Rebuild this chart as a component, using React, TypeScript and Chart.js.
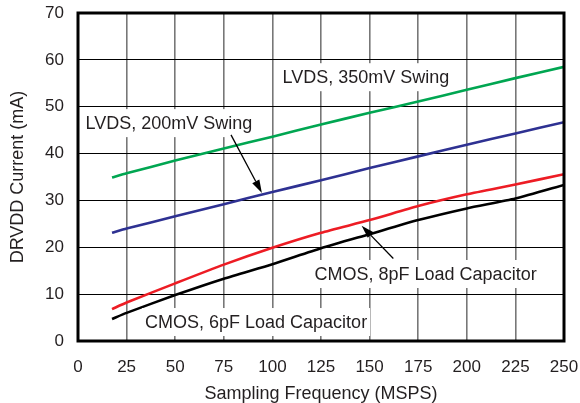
import React, { useEffect, useRef } from "react";
import { Chart, registerables } from "chart.js";

Chart.register(...registerables);

// Sampling frequency (MSPS)
const freq = [17.5, 25, 50, 75, 100, 125, 150, 175, 200, 225, 250];
const lvds350 = [34.9, 35.8, 38.5, 41.1, 43.6, 46.2, 48.7, 51.1, 53.6, 56.1, 58.5];
const lvds200 = [23.1, 24.0, 26.6, 29.2, 31.8, 34.3, 36.9, 39.4, 41.9, 44.3, 46.7];
const cmos8 = [6.8, 8.2, 12.3, 16.3, 19.9, 23.1, 25.8, 28.8, 31.3, 33.4, 35.6];
const cmos6 = [4.7, 6.0, 9.8, 13.3, 16.4, 19.8, 22.8, 25.8, 28.3, 30.4, 33.3];

const xTicks = [0, 25, 50, 75, 100, 125, 150, 175, 200, 225, 250];
const yTicks = [0, 10, 20, 30, 40, 50, 60, 70];

const xTitle = "Sampling Frequency (MSPS)";
const yTitle = "DRVDD Current (mA)";

// Curve labels (data coordinates of label centre)
const labelTexts = ["LVDS, 350mV Swing", "LVDS, 200mV Swing", "CMOS, 8pF Load Capacitor", "CMOS, 6pF Load Capacitor"];
const labelX = [148.1, 46.8, 178.8, 91.6];
const labelY = [56.3, 46.5, 14.3, 4.05];

// Arrows: from (x1,y1) to tip (x2,y2), data coordinates
const arrowFromX = [78.7, 162.2];
const arrowFromY = [44.0, 17.6];
const arrowToX = [94.6, 145.9];
const arrowToY = [31.6, 24.6];

const FONT = "'Liberation Sans', Arial, Helvetica, sans-serif";
const TEXT = "#231f20";

const toPts = (ys: number[]) => ys.map((y, i) => ({ x: freq[i], y }));

const annotPlugin = {
  id: "annot",
  afterDatasetsDraw(chart: any) {
    const { ctx, scales } = chart;
    const xs = scales.x;
    const ys = scales.y;
    ctx.save();
    ctx.font = `18px ${FONT}`;
    ctx.textAlign = "center";
    ctx.textBaseline = "middle";
    labelTexts.forEach((t, i) => {
      const px = xs.getPixelForValue(labelX[i]);
      const py = ys.getPixelForValue(labelY[i]);
      const w = ctx.measureText(t).width;
      ctx.fillStyle = "#ffffff";
      ctx.fillRect(px - w / 2 - 3, py - 14, w + 6, 28);
      ctx.fillStyle = TEXT;
      ctx.fillText(t, px, py + 1);
    });
    // arrows
    ctx.strokeStyle = "#000";
    ctx.fillStyle = "#000";
    ctx.lineWidth = 1.3;
    arrowFromX.forEach((_, i) => {
      const x1 = xs.getPixelForValue(arrowFromX[i]);
      const y1 = ys.getPixelForValue(arrowFromY[i]);
      const x2 = xs.getPixelForValue(arrowToX[i]);
      const y2 = ys.getPixelForValue(arrowToY[i]);
      const ang = Math.atan2(y2 - y1, x2 - x1);
      const len = 13;
      const half = 4;
      const bx = x2 - len * Math.cos(ang);
      const by = y2 - len * Math.sin(ang);
      ctx.beginPath();
      ctx.moveTo(x1, y1);
      ctx.lineTo(bx, by);
      ctx.stroke();
      ctx.beginPath();
      ctx.moveTo(x2, y2);
      ctx.lineTo(bx + half * Math.sin(ang), by - half * Math.cos(ang));
      ctx.lineTo(bx - half * Math.sin(ang), by + half * Math.cos(ang));
      ctx.closePath();
      ctx.fill();
    });
    ctx.restore();
  },
  afterDraw(chart: any) {
    const { ctx, chartArea: a } = chart;
    ctx.save();
    ctx.strokeStyle = "#000";
    ctx.lineWidth = 3;
    ctx.strokeRect(a.left, a.top, a.right - a.left, a.bottom - a.top);
    ctx.restore();
  },
};

export default function App() {
  const ref = useRef<HTMLCanvasElement>(null);
  useEffect(() => {
    if (!ref.current) return;
    const line = (data: number[], color: string) => ({
      data: toPts(data),
      borderColor: color,
      backgroundColor: color,
      borderWidth: 2.6,
      pointRadius: 0,
      tension: 0.2,
      fill: false,
    });
    const chart = new Chart(ref.current, {
      type: "line",
      data: {
        datasets: [
          line(lvds350, "#00a651"),
          line(lvds200, "#2e3192"),
          line(cmos8, "#ed1c24"),
          line(cmos6, "#000000"),
        ],
      },
      options: {
        animation: false,
        responsive: false,
        devicePixelRatio: 1,
        layout: { padding: { top: 13, right: 16, left: 0, bottom: 0 } },
        plugins: { legend: { display: false }, tooltip: { enabled: false } },
        scales: {
          x: {
            type: "linear",
            min: 0,
            max: 250,
            afterBuildTicks: (s: any) => {
              s.ticks = xTicks.map((v) => ({ value: v }));
            },
            afterFit: (s: any) => {
              s.height = 62;
              s.paddingLeft = 0;
              s.paddingRight = 0;
            },
            ticks: { font: { size: 17, family: FONT }, color: TEXT, padding: 16, maxRotation: 0, autoSkip: false },
            grid: { color: "#777777", lineWidth: 1.6, drawTicks: false },
            border: { display: false },
            title: { display: true, text: xTitle, font: { size: 18, family: FONT, lineHeight: 1.05 }, color: TEXT, padding: { top: 0, bottom: 0 } },
          },
          y: {
            type: "linear",
            min: 0,
            max: 70,
            afterBuildTicks: (s: any) => {
              s.ticks = yTicks.map((v) => ({ value: v }));
            },
            afterFit: (s: any) => {
              s.width = 78;
              s.paddingTop = 0;
              s.paddingBottom = 0;
            },
            ticks: { font: { size: 17, family: FONT }, color: TEXT, padding: 14 },
            grid: { color: "#000000", lineWidth: 1, drawTicks: false },
            border: { display: false },
            title: { display: true, text: yTitle, font: { size: 18, family: FONT }, color: TEXT, padding: { top: 7, bottom: 0 } },
          },
        },
      },
      plugins: [annotPlugin],
    } as any);
    return () => chart.destroy();
  }, []);
  return (
    <div style={{ position: "fixed", left: 0, top: 0, width: 580, height: 403, background: "#fff" }}>
      <canvas ref={ref} width={580} height={403} style={{ display: "block" }} />
    </div>
  );
}
